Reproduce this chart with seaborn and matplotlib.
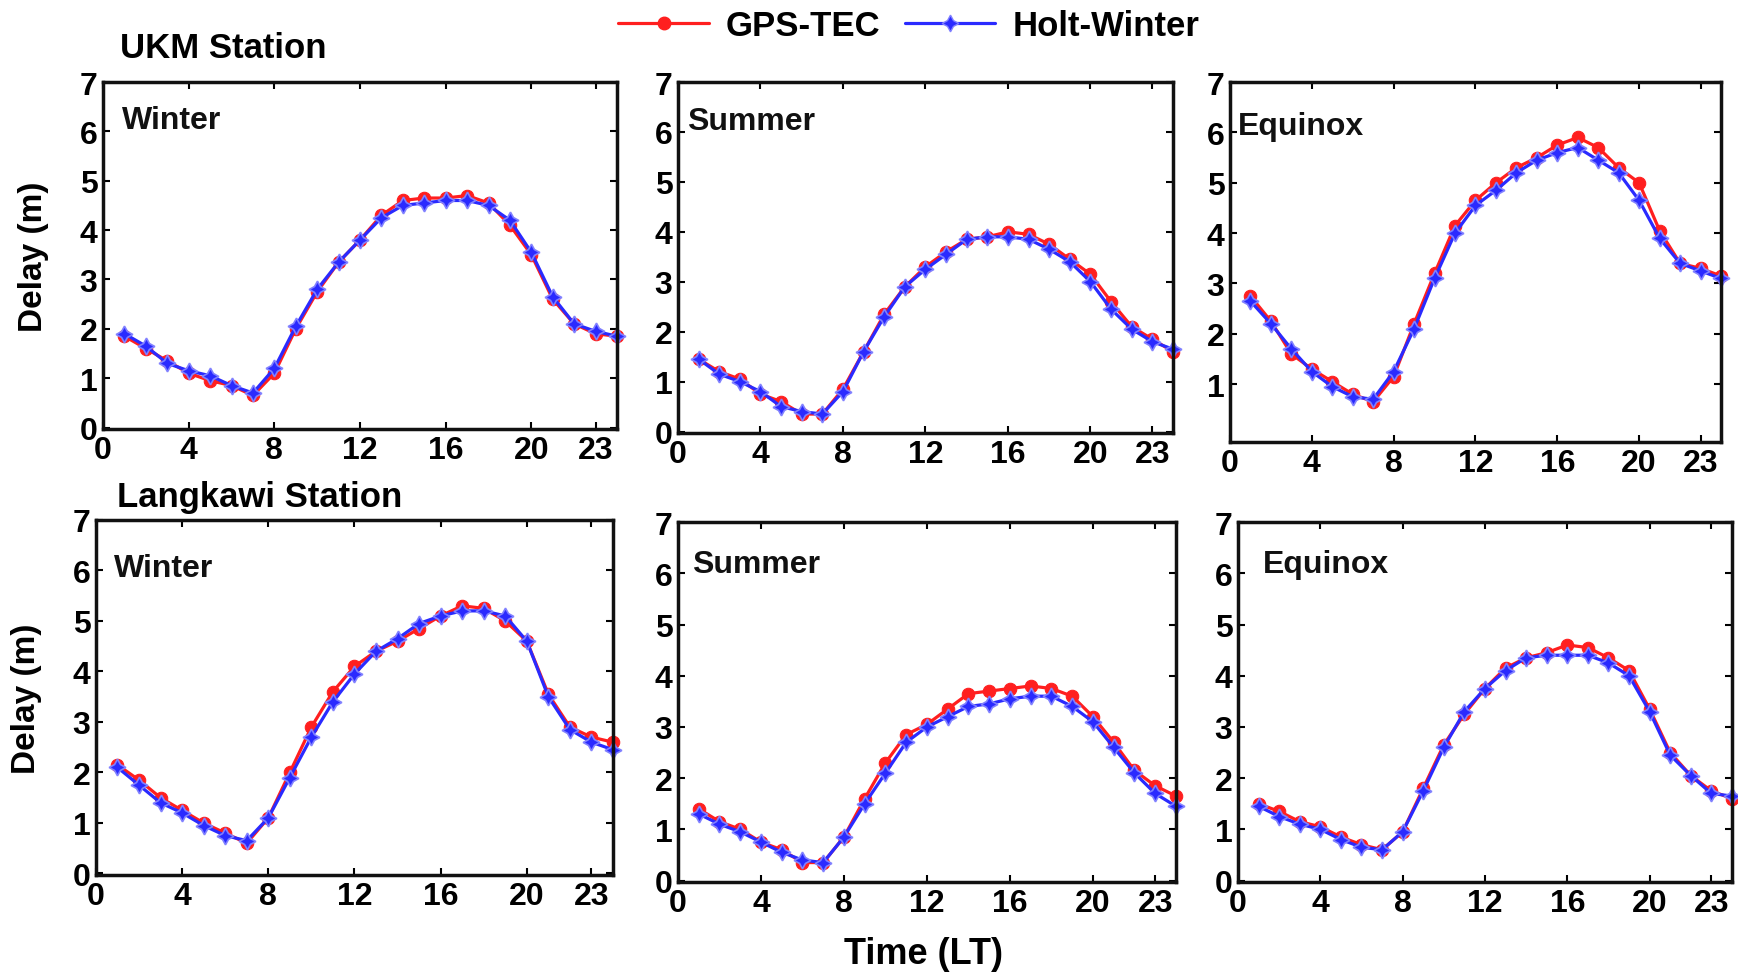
import numpy as np
import pandas as pd
import seaborn as sns
import matplotlib
matplotlib.use("Agg")
import matplotlib.pyplot as plt
from matplotlib.lines import Line2D

# ---------------- data ----------------
hours = list(range(1, 25))
xticks = [0, 4, 8, 12, 16, 20, 23]

ukm_winter_gps = [1.85, 1.6, 1.35, 1.1, 0.95, 0.85, 0.65, 1.1, 2.0, 2.75, 3.35, 3.8,
                  4.3, 4.6, 4.65, 4.65, 4.7, 4.55, 4.1, 3.5, 2.6, 2.1, 1.9, 1.85]
ukm_winter_hw = [1.9, 1.65, 1.3, 1.15, 1.05, 0.85, 0.7, 1.2, 2.05, 2.8, 3.35, 3.8,
                 4.25, 4.5, 4.55, 4.6, 4.6, 4.5, 4.2, 3.55, 2.65, 2.1, 1.95, 1.85]

ukm_summer_gps = [1.45, 1.2, 1.05, 0.75, 0.6, 0.35, 0.35, 0.85, 1.6, 2.35, 2.9, 3.3,
                  3.6, 3.85, 3.9, 4.0, 3.95, 3.75, 3.45, 3.15, 2.6, 2.1, 1.85, 1.6]
ukm_summer_hw = [1.45, 1.15, 1.0, 0.8, 0.5, 0.4, 0.35, 0.8, 1.6, 2.3, 2.9, 3.25,
                 3.55, 3.85, 3.9, 3.9, 3.85, 3.65, 3.4, 3.0, 2.45, 2.05, 1.8, 1.65]

ukm_equinox_gps = [2.75, 2.25, 1.6, 1.3, 1.05, 0.8, 0.65, 1.15, 2.2, 3.2, 4.15, 4.65,
                   5.0, 5.3, 5.5, 5.75, 5.9, 5.7, 5.3, 5.0, 4.05, 3.4, 3.3, 3.15]
ukm_equinox_hw = [2.65, 2.2, 1.7, 1.25, 0.95, 0.75, 0.7, 1.25, 2.1, 3.1, 4.0, 4.55,
                  4.85, 5.2, 5.45, 5.6, 5.7, 5.45, 5.2, 4.65, 3.9, 3.4, 3.25, 3.1]

lgk_winter_gps = [2.15, 1.85, 1.5, 1.25, 1.0, 0.8, 0.6, 1.1, 2.0, 2.9, 3.6, 4.1,
                  4.4, 4.6, 4.85, 5.1, 5.3, 5.25, 5.0, 4.6, 3.55, 2.9, 2.7, 2.6]
lgk_winter_hw = [2.1, 1.75, 1.4, 1.2, 0.95, 0.75, 0.65, 1.1, 1.9, 2.7, 3.4, 3.95,
                 4.4, 4.65, 4.95, 5.1, 5.2, 5.2, 5.1, 4.6, 3.5, 2.85, 2.6, 2.45]

lgk_summer_gps = [1.4, 1.15, 1.0, 0.75, 0.6, 0.35, 0.35, 0.85, 1.6, 2.3, 2.85, 3.05,
                  3.35, 3.65, 3.7, 3.75, 3.8, 3.75, 3.6, 3.2, 2.7, 2.15, 1.85, 1.65]
lgk_summer_hw = [1.3, 1.1, 0.95, 0.75, 0.55, 0.4, 0.35, 0.85, 1.5, 2.1, 2.7, 3.0,
                 3.2, 3.4, 3.45, 3.55, 3.6, 3.6, 3.4, 3.1, 2.6, 2.1, 1.7, 1.45]

lgk_equinox_gps = [1.5, 1.35, 1.15, 1.05, 0.85, 0.7, 0.6, 0.95, 1.8, 2.65, 3.25, 3.75,
                   4.15, 4.35, 4.45, 4.6, 4.55, 4.35, 4.1, 3.35, 2.5, 2.05, 1.75, 1.6]
lgk_equinox_hw = [1.45, 1.25, 1.1, 1.0, 0.8, 0.65, 0.6, 0.95, 1.75, 2.6, 3.3, 3.75,
                  4.1, 4.35, 4.4, 4.4, 4.4, 4.25, 4.0, 3.3, 2.45, 2.05, 1.7, 1.65]

season_labels = ["Winter", "Summer", "Equinox"]
station_labels = ["UKM Station", "Langkawi Station"]
series_names = ["GPS-TEC", "Holt-Winter"]

panels = [
    (ukm_winter_gps, ukm_winter_hw), (ukm_summer_gps, ukm_summer_hw), (ukm_equinox_gps, ukm_equinox_hw),
    (lgk_winter_gps, lgk_winter_hw), (lgk_summer_gps, lgk_summer_hw), (lgk_equinox_gps, lgk_equinox_hw),
]

# ---------------- style ----------------
sns.set_style("ticks")
FAM = ["Liberation Sans Narrow", "Liberation Sans", "DejaVu Sans"]
plt.rcParams["font.family"] = FAM
plt.rcParams["font.weight"] = "bold"
for key in ("text.color", "axes.labelcolor", "xtick.color", "ytick.color"):
    plt.rcParams[key] = "black"

RED = "#ff1f1f"
BLUE = "#2a2aff"

fig = plt.figure(figsize=(17.38, 9.78), dpi=100)

positions = [
    [0.0593, 0.5603, 0.2957, 0.3548],
    [0.3901, 0.5562, 0.2848, 0.3589],
    [0.7077, 0.5470, 0.2825, 0.3680],
    [0.0552, 0.1043, 0.2975, 0.3630],
    [0.3901, 0.0971, 0.2865, 0.3680],
    [0.7123, 0.0971, 0.2842, 0.3680],
]
text_pos = [(0.037, 0.89), (0.018, 0.89), (0.016, 0.877),
            (0.034, 0.866), (0.029, 0.883), (0.05, 0.883)]

for i, (gps, hw) in enumerate(panels):
    ax = fig.add_axes(positions[i])
    df = pd.DataFrame({"hour": hours * 2,
                       "delay": list(gps) + list(hw),
                       "series": [series_names[0]] * 24 + [series_names[1]] * 24})
    sns.lineplot(data=df[df.series == "GPS-TEC"], x="hour", y="delay", ax=ax,
                 color=RED, marker="o", markersize=9, markeredgecolor=RED,
                 linewidth=2.3, clip_on=False, legend=False)
    sns.lineplot(data=df[df.series == "Holt-Winter"], x="hour", y="delay", ax=ax,
                 color=BLUE, marker=(4, 1, 0), markersize=12, markeredgecolor="#8080ff",
                 markeredgewidth=1.2, linewidth=2.3, clip_on=False, legend=False)
    ax.set_xlim(0, 24)
    if i == 2:
        ax.set_ylim(-0.15, 7)
        ax.set_yticks([1, 2, 3, 4, 5, 6, 7])
    else:
        ax.set_ylim(-0.03, 7)
        ax.set_yticks(range(0, 8))
    ax.set_xticks(xticks)
    ax.tick_params(direction="in", length=5, width=1.5, top=True, right=True,
                   labelsize=23, pad=4, colors="black")
    for lab in ax.get_xticklabels() + ax.get_yticklabels():
        lab.set_fontweight("bold")
    for sp in ax.spines.values():
        sp.set_linewidth(2.5)
        sp.set_color("#111111")
    ax.set_xlabel("")
    if i in (0, 3):
        ax.set_ylabel("Delay (m)", fontsize=24, fontweight="bold", labelpad=22)
    else:
        ax.set_ylabel("")
    tx, ty = text_pos[i]
    ax.text(tx, ty, season_labels[i % 3], transform=ax.transAxes, fontsize=23,
            fontweight="bold", ha="left", va="center", color="#111111")

fig.text(120 / 1738, 1 - 48 / 978, station_labels[0], fontsize=25, fontweight="bold",
         ha="left", va="center")
fig.text(117 / 1738, 1 - 498 / 978, station_labels[1], fontsize=25, fontweight="bold",
         ha="left", va="center")
fig.text(923 / 1738, 1 - 955 / 978, "Time (LT)", fontsize=26, fontweight="bold",
         ha="center", va="center")

handles = [Line2D([], [], color=RED, marker="o", markersize=9, linewidth=2.3),
           Line2D([], [], color=BLUE, marker=(4, 1, 0), markersize=12,
                  markeredgecolor="#8080ff", linewidth=2.3)]
fig.legend(handles, series_names, loc="center", bbox_to_anchor=(909 / 1738, 1 - 27 / 978),
           ncol=2, frameon=False, handlelength=2.6, columnspacing=0.7,
           handletextpad=0.5, prop={"weight": "bold", "size": 25, "family": FAM})

fig.savefig("out.png", dpi=100)
